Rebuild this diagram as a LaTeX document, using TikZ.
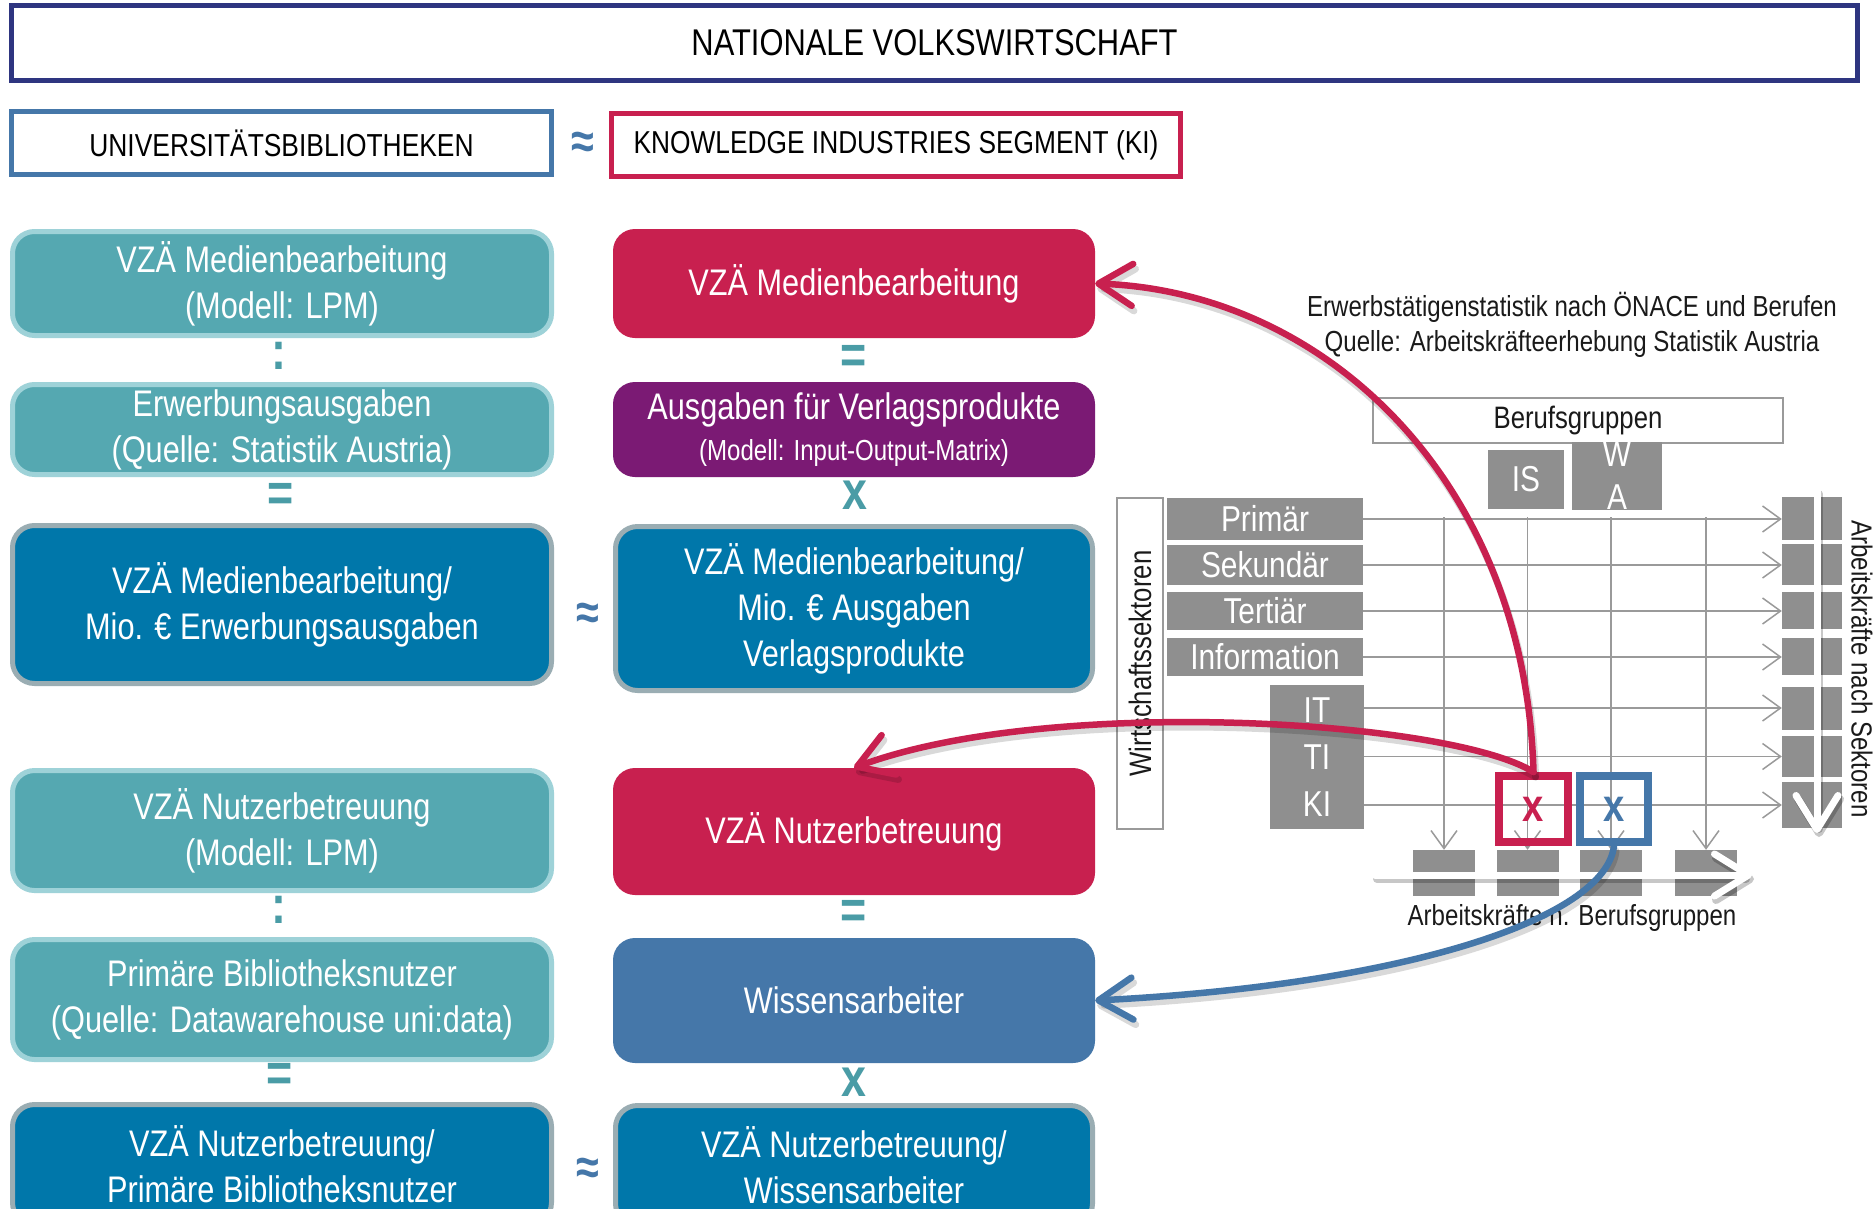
\documentclass[tikz,border=0pt]{standalone}
\usepackage{fontspec}
\setmainfont{Liberation Sans}[FakeStretch=0.83]
\usetikzlibrary{arrows.meta}
\definecolor{navy}{HTML}{2E3580}
\definecolor{steel}{HTML}{4577A9}
\definecolor{crim}{HTML}{C8204F}
\definecolor{tealF}{HTML}{55A8B1}
\definecolor{tealB}{HTML}{9ED2D8}
\definecolor{darkF}{HTML}{0077AA}
\definecolor{darkB}{HTML}{9AADB3}
\definecolor{purp}{HTML}{7B1A74}
\definecolor{opc}{HTML}{4A9CA6}
\definecolor{gfill}{HTML}{8F8F8F}
\definecolor{gline}{HTML}{9A9A9A}
\definecolor{txt}{HTML}{1A1A1A}
\begin{document}
\begin{tikzpicture}[x=1pt,y=-1pt,
  box/.style={rounded corners=22pt, align=center, text=white, inner sep=0pt, font=\fontsize{37}{46}\selectfont},
  tealbox/.style={box, fill=tealF, draw=tealB, line width=5pt},
  darkbox/.style={box, fill=darkF, draw=darkB, line width=5pt},
  hdr/.style={draw, line width=5pt, fill=white, inner sep=0pt, text=black, font=\fontsize{31.8}{36}\selectfont},
  op/.style={text=opc, font=\fontsize{54}{54}\selectfont\bfseries, inner sep=0pt},
  approx/.style={text=steel, font=\fontsize{50}{50}\selectfont\bfseries, inner sep=0pt},
  gbox/.style={fill=gfill, text=white, inner sep=0pt, font=\fontsize{36}{43}\selectfont, align=center},
  wbox/.style={draw=gline, line width=1.5pt, fill=white, inner sep=0pt, text=txt, font=\fontsize{31}{36}\selectfont},
  blk/.style={fill=gfill, inner sep=0pt, minimum width=60pt},
  gl/.style={draw=gline, line width=1.5pt},
  garrow/.style={gl, -{Straight Barb[length=18pt,width=26pt]}},
  wshadow/.style={draw=black, opacity=0.22, line width=8pt, line cap=round, -{Straight Barb[length=34pt,width=42pt,round]}, transform canvas={shift={(2pt,-4pt)}}},
  warrow/.style={draw=white, line width=7pt, line cap=round, -{Straight Barb[length=34pt,width=42pt,round]}},
  curve/.style={line width=6.5pt, line cap=round, -{Straight Barb[length=34pt,width=42pt,round]}},
  cshadow/.style={draw=black, opacity=0.15, line width=7pt, line cap=round, -{Straight Barb[length=34pt,width=42pt,round]}, transform canvas={shift={(2pt,-5pt)}}},
  lbl/.style={text=txt, inner sep=0pt, font=\fontsize{29}{35}\selectfont, align=center},
  xbox/.style={line width=8pt, inner sep=0pt, minimum height=66pt, font=\fontsize{46}{46}\selectfont\bfseries},
]
\clip (0,0) rectangle (1876,1208);
\fill[white] (0,0) rectangle (1876,1208);

% headers
\node[hdr, draw=navy, minimum width=1846pt, minimum height=75pt, font=\fontsize{37.2}{40}\selectfont] (nat) at (934.5,43) {NATIONALE VOLKSWIRTSCHAFT};
\node[hdr, draw=steel, minimum width=540pt, minimum height=63pt] (ub) at (281.5,143) {UNIVERSITÄTSBIBLIOTHEKEN};
\node[hdr, draw=crim, minimum width=569pt, minimum height=63pt, font=\fontsize{31.7}{36}\selectfont] (ki) at (896,145) {KNOWLEDGE INDUSTRIES SEGMENT (KI)};
\node[approx] (a1) at (583,145) {≈};

% left column
\node[tealbox, minimum width=539pt, minimum height=104pt] (l1) at (282,283.5) {VZÄ Medienbearbeitung\\(Modell: LPM)};
\node[tealbox, minimum width=539pt, minimum height=90pt] (l2) at (282,429.5) {Erwerbungsausgaben\\(Quelle: Statistik Austria)};
\node[darkbox, minimum width=539pt, minimum height=158pt] (l3) at (282,604.5) {VZÄ Medienbearbeitung/\\Mio. € Erwerbungsausgaben};
\node[tealbox, minimum width=539pt, minimum height=120pt] (l4) at (282,830.5) {VZÄ Nutzerbetreuung\\(Modell: LPM)};
\node[tealbox, minimum width=539pt, minimum height=120pt] (l5) at (282,999.5) {Primäre Bibliotheksnutzer\\(Quelle: Datawarehouse uni:data)};
\node[darkbox, minimum width=539pt, minimum height=120pt] (l6) at (282,1164.5) {VZÄ Nutzerbetreuung/\\Primäre Bibliotheksnutzer};

% right column
\node[box, fill=crim, minimum width=482pt, minimum height=109pt] (r1) at (854,283.5) {VZÄ Medienbearbeitung};
\node[box, fill=purp, minimum width=482pt, minimum height=95pt] (r2) at (854,429.5) {Ausgaben für Verlagsprodukte\\[-5pt]{\fontsize{29}{34}\selectfont (Modell: Input-Output-Matrix)}};
\node[darkbox, minimum width=477pt, minimum height=164pt] (r3) at (854,608.5) {VZÄ Medienbearbeitung/\\Mio. € Ausgaben\\Verlagsprodukte};
\node[box, fill=crim, minimum width=482pt, minimum height=127pt] (r4) at (854,831.5) {VZÄ Nutzerbetreuung};
\node[box, fill=steel, minimum width=482pt, minimum height=125pt] (r5) at (854,1000.5) {Wissensarbeiter};
\node[darkbox, minimum width=477pt, minimum height=120pt] (r6) at (854,1165.5) {VZÄ Nutzerbetreuung/\\Wissensarbeiter};

% operators
\node[op] (c1) at (279,356) {:};
\node[op] (e1) at (281,497) {=};
\node[op] (e2) at (854,359) {=};
\node[op] (x1) at (855,495) {x};
\node[approx] (a2) at (588,616) {≈};
\node[op] (c2) at (279,910) {:};
\node[op] (e3) at (854,914) {=};
\node[op] (e4) at (280,1077) {=};
\node[op] (x2) at (854,1082) {x};
\node[approx] (a3) at (588,1171) {≈};

% right diagram
\node[lbl] (erw) at (1572,325) {Erwerbstätigenstatistik nach ÖNACE und Berufen\\Quelle: Arbeitskräfteerhebung Statistik Austria};
\node[wbox, minimum width=410pt, minimum height=45pt] (bg) at (1578,420.5) {Berufsgruppen};
\node[gbox, minimum width=76pt, minimum height=59pt] (is) at (1526,479.5) {IS};
\node[gbox, minimum width=90pt, minimum height=59pt] (wa) at (1617,476) {W\\A};
\node[wbox, rotate=90, minimum width=331pt, minimum height=46pt] (ws) at (1140,663.5) {Wirtschaftssektoren};
\node[gbox, minimum width=196pt, minimum height=42pt] (prim) at (1265,519) {Primär};
\node[gbox, minimum width=196pt, minimum height=40pt] (sek) at (1265,565) {Sekundär};
\node[gbox, minimum width=196pt, minimum height=38pt] (ter) at (1265,611) {Tertiär};
\node[gbox, minimum width=196pt, minimum height=38pt] (inf) at (1265,657) {Information};
\node[gbox, minimum width=94pt, minimum height=144pt, font=\fontsize{36}{47}\selectfont] (itk) at (1317,757) {IT\\TI\\KI};

% right blocks
\node[blk, minimum height=43pt] (s1) at (1812,518.5) {};
\node[blk, minimum height=41pt] (s2) at (1812,564.5) {};
\node[blk, minimum height=37pt] (s3) at (1812,610.5) {};
\node[blk, minimum height=37pt] (s4) at (1812,656.5) {};
\node[blk, minimum height=43pt] (s5) at (1812,708) {};
\node[blk, minimum height=41pt] (s6) at (1812,756.5) {};
\node[blk, minimum height=46pt] (s7) at (1812,805) {};
% bottom blocks
\node[blk, minimum width=62pt, minimum height=46pt] (b1) at (1444,873) {};
\node[blk, minimum width=62pt, minimum height=46pt] (b2) at (1527.5,873) {};
\node[blk, minimum width=62pt, minimum height=46pt] (b3) at (1611,873) {};
\node[blk, minimum width=62pt, minimum height=46pt] (b4) at (1706,873) {};

% grid lines
\draw[garrow] (prim.east) -- (prim.east -| s1.west);
\draw[garrow] (sek.east) -- (sek.east -| s2.west);
\draw[garrow] (ter.east) -- (ter.east -| s3.west);
\draw[garrow] (inf.east) -- (inf.east -| s4.west);
\draw[garrow] (itk.east |- s5.center) -- (s5.west);
\draw[garrow] (itk.east |- s6.center) -- (s6.west);
\draw[garrow] (itk.east |- s7.center) -- (s7.west);
\coordinate (v1) at (1444,517);
\coordinate (v2) at (1527.5,517);
\coordinate (v3) at (1611,517);
\coordinate (v4) at (1706,517);
\draw[garrow] (v1) -- (b1.north);
\draw[garrow] (v2) -- (b2.north);
\draw[garrow] (v3) -- (b3.north);
\draw[garrow] (v4) -- (b4.north);

% white arrows
\coordinate (wv1) at (1817,490);
\coordinate (wv2) at (1817,833);
\coordinate (wh1) at (1375,875);
\coordinate (wh2) at (1752,875);
\draw[wshadow] (wv1) -- (wv2);
\draw[warrow] (wv1) -- (wv2);
\draw[wshadow] (wh1) -- (wh2);
\draw[warrow] (wh1) -- (wh2);

\node[lbl] (anb) at (1572,917.5) {Arbeitskräfte n. Berufsgruppen};
\node[lbl, rotate=-90] (ans) at (1862,669) {Arbeitskräfte nach Sektoren};

% x boxes
\node[xbox, draw=crim, text=crim, minimum width=69pt] (rx) at (1533.5,809) {x};
\node[xbox, draw=steel, text=steel, minimum width=68pt] (bx) at (1614,809) {x};

% curves
\draw[cshadow] (rx.north) .. controls (1525,480) and (1325,292) .. (r1.east);
\draw[cshadow] (rx.north) .. controls (1450,720) and (1050,695) .. (r4.north);
\draw[cshadow] (bx.south) .. controls (1605,920) and (1400,985) .. (r5.east);
\draw[curve, crim] (rx.north) .. controls (1525,480) and (1325,292) .. (r1.east);
\draw[curve, crim] (rx.north) .. controls (1450,720) and (1050,695) .. (r4.north);
\draw[curve, steel] (bx.south) .. controls (1605,920) and (1400,985) .. (r5.east);
\end{tikzpicture}
\end{document}
